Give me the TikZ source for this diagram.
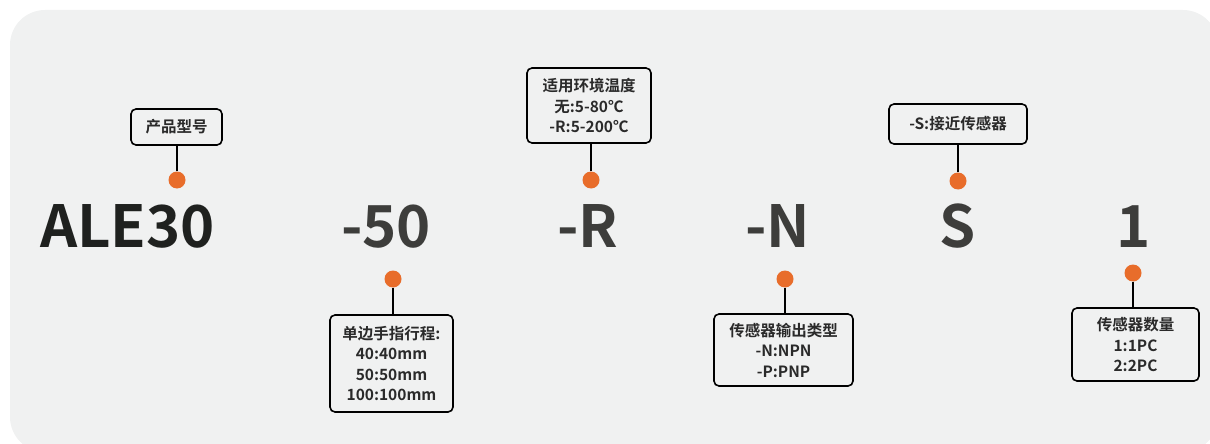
\documentclass[tikz,border=0pt]{standalone}
\usepackage{fontspec}
\setmainfont{Noto Sans CJK SC}[BoldFont={Noto Sans CJK SC Bold}]
\definecolor{panelgray}{HTML}{F0F1F1}
\definecolor{pinorange}{HTML}{E86D2B}
\definecolor{codeblack}{HTML}{1F211F}
\definecolor{codegray}{HTML}{3D3D3B}
\definecolor{taggray}{HTML}{2A2A2A}

\begin{document}
\begin{tikzpicture}[x=1pt,y=-1pt,
					tag/.style={%
						draw=black,
						line width=1.6pt,
						rounded corners=5pt,
						fill=panelgray,
						align=center,
						inner sep=0pt,
						text=taggray,
						font=\fontsize{15.5}{20.5}\selectfont\bfseries
					},
					code/.style={%
						anchor=base,
						inner sep=0pt,
						text=codegray,
						font=\fontsize{58}{58}\selectfont\bfseries
					},
					pin/.style={circle, fill=pinorange, minimum size=17pt, inner sep=0pt},
					stem/.style={line width=2.2pt}
				]

				\useasboundingbox (0,0) rectangle (1210,444);
				\fill[panelgray, rounded corners=35pt] (10,10) rectangle (1218,452);

				% model code
				\node[code, text=codeblack] (ale) at (127.5,247) {ALE30};
				\node[code] (stroke) at (386,247) {-50};
				\node[code] (temp) at (588,247) {-R};
				\node[code] (output) at (777.5,247) {-N};
				\node[code] (sensor) at (958,247) {S};
				\node[code] (count) at (1134,247) {1};

				% pins
				\node[pin] (alepin) at (177,180) {};
				\node[pin] (strokepin) at (393,279) {};
				\node[pin] (temppin) at (591,180) {};
				\node[pin] (outputpin) at (785,279) {};
				\node[pin] (sensorpin) at (958,181) {};
				\node[pin] (countpin) at (1133,273) {};

				% tags above
				\node[tag, minimum width=91pt, minimum height=36pt] (aletag) at (176.5,127) {产品型号};
				\node[tag, minimum width=124pt, minimum height=75pt] (temptag) at (589,105.5) {%
					适用环境温度\\
					无:5-80℃\\
					-R:5-200℃};
				\node[tag, minimum width=138pt, minimum height=40pt] (sensortag) at (958,124) {-S:接近传感器};

				% tags below
				\node[tag, minimum width=123pt, minimum height=97pt] (stroketag) at (391.5,363.5) {%
					单边手指行程:\\
					40:40mm\\
					50:50mm\\
					100:100mm};
				\node[tag, minimum width=139pt, minimum height=72pt] (outputtag) at (783.5,350) {%
					传感器输出类型\\
					-N:NPN\\
					-P:PNP};
				\node[tag, minimum width=127pt, minimum height=73pt] (counttag) at (1135.5,344.5) {%
					传感器数量\\
					1:1PC\\
					2:2PC};

				\draw[stem] (alepin.north) -- (alepin |- aletag.south);
				\draw[stem] (temppin.north) -- (temppin |- temptag.south);
				\draw[stem] (sensorpin.north) -- (sensorpin |- sensortag.south);
				\draw[stem] (strokepin.south) -- (strokepin |- stroketag.north);
				\draw[stem] (outputpin.south) -- (outputpin |- outputtag.north);
				\draw[stem] (countpin.south) -- (countpin |- counttag.north);
			\end{tikzpicture}
\end{document}
